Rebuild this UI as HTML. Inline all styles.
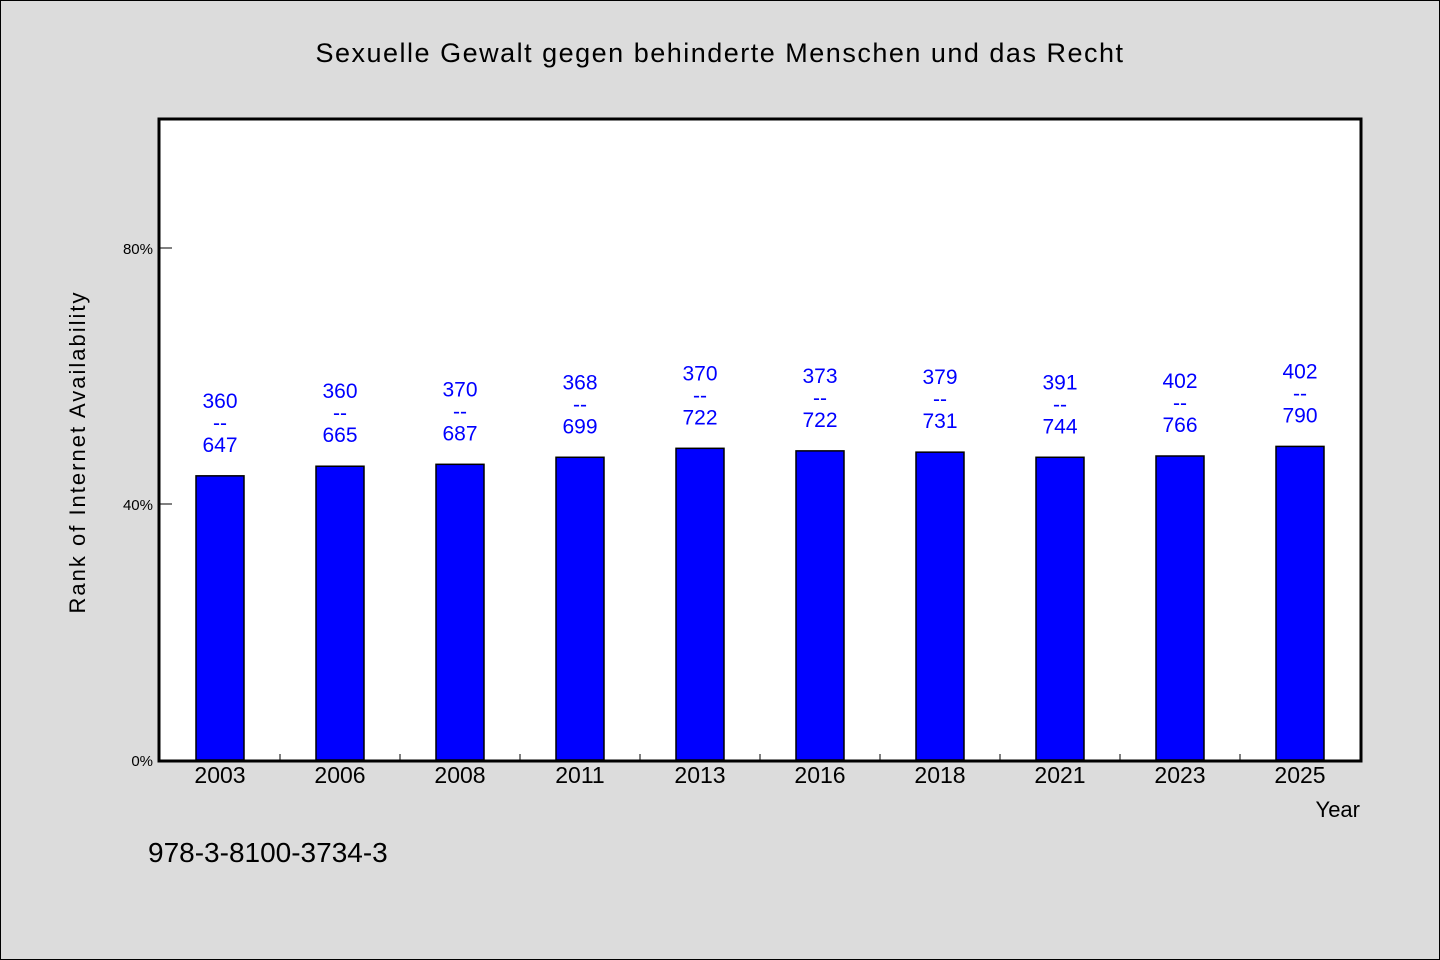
<!DOCTYPE html>
<html><head><meta charset="utf-8"><style>
body{margin:0;background:#dcdcdc;}
svg{display:block;font-family:"WenQuanYi Zen Hei","Liberation Sans",sans-serif;}
</style></head><body>
<svg id="chart" width="1440" height="960">
<rect x="0.5" y="0.5" width="1439" height="959" fill="#dcdcdc" stroke="#000"/>
<text x="720" y="62" text-anchor="middle" font-size="27" letter-spacing="1.5">Sexuelle Gewalt gegen behinderte Menschen und das Recht</text>
<rect x="159" y="119" width="1202" height="642" fill="#fff" stroke="#000" stroke-width="3"/>
<g id="bars"></g>
<g id="axes"></g>
<text transform="translate(85,452) rotate(-90)" text-anchor="middle" font-size="22" letter-spacing="2">Rank of Internet Availability</text>
<text x="1360" y="817" text-anchor="end" font-size="22">Year</text>
<text x="148" y="862" font-size="28">978-3-8100-3734-3</text>
</svg>
<script>
const categories=["2003","2006","2008","2011","2013","2016","2018","2021","2023","2025"];
const values=[44.4,45.9,46.2,47.3,48.7,48.3,48.1,47.3,47.5,49.0];
const topLabels=["360","360","370","368","370","373","379","391","402","402"];
const bottomLabels=["647","665","687","699","722","722","731","744","766","790"];
const yTicks=[0,40,80];
const NS="http://www.w3.org/2000/svg";
const x0=160,bw=120,y0=760,pxPer=6.4;
const xC=i=>x0+bw*i+bw/2;
const yS=v=>y0-v*pxPer;
function mk(tag,attrs,parent,txt){const e=document.createElementNS(NS,tag);for(const k in attrs)e.setAttribute(k,attrs[k]);if(txt!==undefined)e.textContent=txt;parent.appendChild(e);return e;}
const bars=document.getElementById('bars'),axes=document.getElementById('axes');
categories.forEach((c,i)=>{
  const top=yS(values[i]);
  const r=mk('rect',{x:xC(i)-24,y:top,width:48,height:y0-top,fill:'#0000ff',stroke:'#000','stroke-width':1.5},bars);
  
  
  const g=mk('g',{fill:'#0000ff','font-size':21,'text-anchor':'middle'},bars);
  
  
  mk('text',{x:xC(i),y:top-68},g,topLabels[i]);
  mk('text',{x:xC(i),y:top-46},g,'--');
  mk('text',{x:xC(i),y:top-24},g,bottomLabels[i]);
  const t=mk('text',{x:xC(i),y:783,'font-size':23,'text-anchor':'middle'},axes,c);
  
  
  if(i>0){const l=mk('line',{x1:x0+bw*i,x2:x0+bw*i,y1:754,y2:760,stroke:'#000'},axes);
  
  }
});
yTicks.forEach(v=>{
  const y=yS(v);
  const l=mk('line',{x1:160,x2:172,y1:y,y2:y,stroke:'#000'},axes);
  
  
  const t=mk('text',{x:153,y:y+6,'font-size':15,'text-anchor':'end'},axes,v+'%');
  
  
});
</script>
</body></html>
